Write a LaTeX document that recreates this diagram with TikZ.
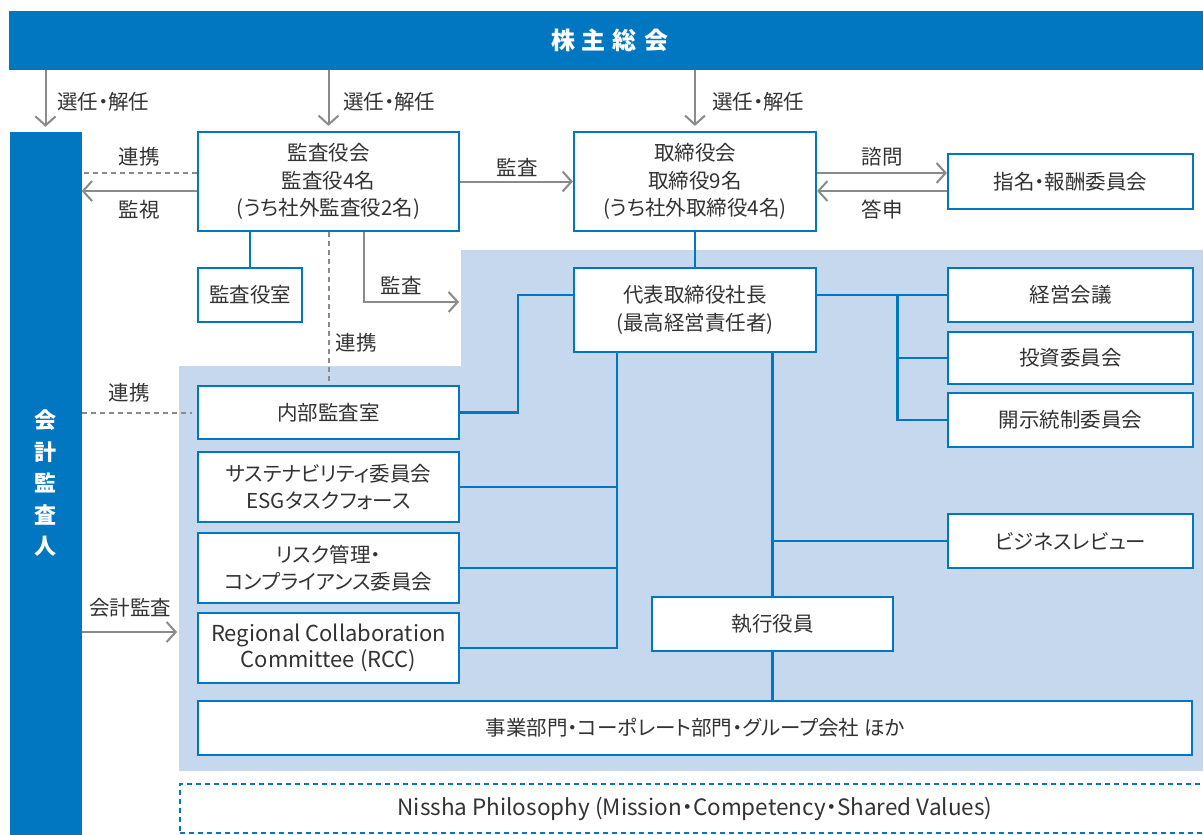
\documentclass[tikz,border=0pt]{standalone}
\usepackage{fontspec}
\setmainfont{Noto Sans CJK JP}[RawFeature=+palt]
\usetikzlibrary{arrows.meta,calc}
\definecolor{blu}{HTML}{0077C0}
\definecolor{lblue}{HTML}{C5D8EE}
\definecolor{gry}{HTML}{8A8A8A}
\definecolor{txt}{HTML}{333333}
\begin{document}
\begin{tikzpicture}[x=1pt,y=-1pt,
  box/.style={draw=blu, line width=2.2pt, fill=white, text=txt, align=center, inner sep=0pt, font=\fontsize{20.5}{27.5}\selectfont},
  lbl/.style={text=txt, inner sep=0pt, font=\fontsize{20.5}{24}\selectfont},
  garrow/.style={draw=gry, line width=2pt, -{Straight Barb[length=9pt,width=20pt,line width=2pt]}},
  gdash/.style={draw=gry, line width=2pt, dash pattern=on 5pt off 4pt},
  bline/.style={draw=blu, line width=2.2pt},
]
\useasboundingbox (0,0) rectangle (1203,835);
\clip (0,0) rectangle (1203,835);

% shaded area
\fill[lblue] (461,250) -- (1210,250) -- (1210,771) -- (179,771) -- (179,366) -- (461,366) -- cycle;

% top bar and auditor column
\node[fill=blu, minimum width=1201pt, minimum height=59pt, inner sep=0pt, text=white,
      font=\bfseries\fontsize{24}{24}\selectfont] (top) at (609.5,40.5) {株\hspace{7pt}主\hspace{7pt}総\hspace{7pt}会};
\node[fill=blu, minimum width=72pt, minimum height=703pt, inner sep=0pt, text=white, align=center,
      font=\bfseries\fontsize{22}{31.5}\selectfont] (col) at (45.5,483.5) {会\\計\\監\\査\\人};

% boxes
\node[box, minimum width=261pt, minimum height=99pt] (kansa) at (328.5,181.5) {監査役会\\監査役4名\\(うち社外監査役2名)};
\node[box, minimum width=242pt, minimum height=99pt] (tori) at (695,181.5) {取締役会\\取締役9名\\(うち社外取締役4名)};
\node[box, minimum width=245pt, minimum height=55pt] (shimei) at (1070.5,181.5) {指名・報酬委員会};
\node[box, minimum width=104pt, minimum height=54pt] (kshitsu) at (250,295) {監査役室};
\node[box, minimum width=242pt, minimum height=84pt] (daihyo) at (695,310) {代表取締役社長\\(最高経営責任者)};
\node[box, minimum width=245pt, minimum height=54pt] (keiei) at (1070.5,295) {経営会議};
\node[box, minimum width=245pt, minimum height=52pt] (toushi) at (1070.5,358) {投資委員会};
\node[box, minimum width=245pt, minimum height=54pt] (kaiji) at (1070.5,420) {開示統制委員会};
\node[box, minimum width=261pt, minimum height=53pt] (naibu) at (328.5,412.5) {内部監査室};
\node[box, minimum width=261pt, minimum height=70pt] (sust) at (328.5,487) {サステナビリティ委員会\\ESGタスクフォース};
\node[box, minimum width=261pt, minimum height=70pt] (risk) at (328.5,568) {リスク管理・\\コンプライアンス委員会};
\node[box, minimum width=261pt, minimum height=70pt, font=\fontsize{22}{25.5}\selectfont] (rcc) at (328.5,648) {Regional Collaboration\\Committee (RCC)};
\node[box, minimum width=245pt, minimum height=54pt] (biz) at (1070.5,541) {ビジネスレビュー};
\node[box, minimum width=241pt, minimum height=54pt] (shikko) at (772.5,624) {執行役員};
\node[box, minimum width=994pt, minimum height=54pt] (jigyo) at (695,728) {事業部門・コーポレート部門・グループ会社 ほか};
\node[draw=blu, line width=2pt, dash pattern=on 5pt off 4pt, minimum width=1030pt, minimum height=49pt,
      inner sep=0pt, text=txt, font=\fontsize{22.5}{26}\selectfont] (phil) at (695,808.5)
      {Nissha Philosophy (Mission・Competency・Shared Values)};

% election arrows
\draw[garrow, shorten >=5pt] (top.south -| col.north) -- (col.north);
\draw[garrow, shorten >=5pt] (top.south -| kansa.north) -- (kansa.north);
\draw[garrow, shorten >=5pt] (top.south -| tori.north) -- (tori.north);
\node[lbl, anchor=west] (l1) at (57,102) {選任・解任};
\node[lbl, anchor=west] (l2) at (343,102) {選任・解任};
\node[lbl, anchor=west] (l3) at (712,102) {選任・解任};

% kansa <-> col
\coordinate (k1) at ([yshift=8.5pt]kansa.west);
\coordinate (k2) at ([yshift=-9.5pt]kansa.west);
\draw[gdash] (k1) -- (k1 -| col.east);
\draw[garrow] (k2) -- (k2 -| col.east);
\node[lbl] (l4) at (139,157) {連携};
\node[lbl] (l5) at (139,210) {監視};

% kansa -> tori
\draw[garrow] (kansa.east) -- (tori.west);
\node[lbl] (l6) at (517,167) {監査};

% tori <-> shimei
\coordinate (t1) at ([yshift=8.5pt]shimei.west);
\coordinate (t2) at ([yshift=-9.5pt]shimei.west);
\draw[garrow] (t1 -| tori.east) -- (t1);
\draw[garrow] (t2) -- (t2 -| tori.east);
\node[lbl] (l7) at (882,157) {諮問};
\node[lbl] (l8) at (882,210) {答申};

% kansa -> kshitsu, naibu
\draw[bline] (kshitsu.north |- kansa.south) -- (kshitsu.north);
\draw[gdash, shorten >=4pt] (kansa.south) -- (naibu.north);
\node[lbl] (l9) at (356,343) {連携};
\coordinate (kb) at ([xshift=35.5pt]kansa.south);
\coordinate (ke) at (459,302);
\draw[garrow] (kb) |- (ke);
\node[lbl] (l10) at (401,285) {監査};

% col <-> naibu, accounting audit
\draw[gdash, shorten >=5pt] (col.east |- naibu.west) -- (naibu.west);
\node[lbl] (l11) at (129,393) {連携};
\coordinate (sh) at (177,632);
\draw[garrow] (sh -| col.east) -- (sh);
\node[lbl] (l12) at (130,608) {会計監査};

% blue org lines
\draw[bline] (tori.south) -- (daihyo.north);
\coordinate (dw) at ([yshift=15pt]daihyo.west);
\draw[bline] (naibu.east) -- ++(58,0) |- (dw);
\draw[bline] (daihyo.east |- keiei.west) -- (keiei.west);
\coordinate (br) at ([xshift=-49.5pt]keiei.west);
\draw[bline] (br) |- (kaiji.west);
\draw[bline] (br |- toushi.west) -- (toushi.west);
\coordinate (lv) at ([xshift=-78pt]daihyo.south);
\draw[bline] (lv) |- (rcc.east);
\draw[bline] (sust.east) -- (sust.east -| lv);
\draw[bline] (risk.east) -- (risk.east -| lv);
\draw[bline] (daihyo.south -| shikko.north) -- (shikko.north);
\draw[bline] (biz.west) -- (biz.west -| shikko.north);
\draw[bline] (shikko.south) -- (shikko.south |- jigyo.north);
\end{tikzpicture}
\end{document}
